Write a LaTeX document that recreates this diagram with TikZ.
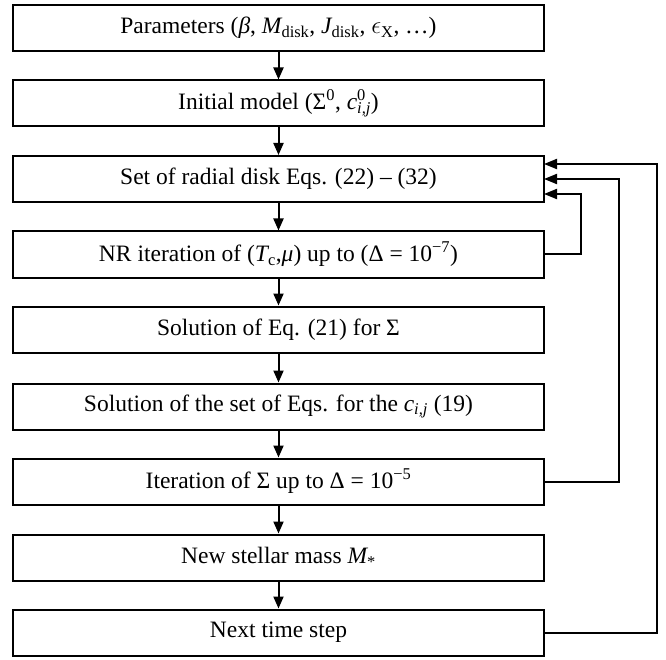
\documentclass[tikz,border=0pt]{standalone}
\usepackage{fontspec}
\setmainfont{Liberation Serif}
\usetikzlibrary{arrows.meta}
\newcommand\sbs[1]{\textsubscript{#1}}
\newcommand\sps[1]{\textsuperscript{#1}}
\begin{document}
\begin{tikzpicture}[x=1pt,y=-1pt,
  stepbox/.style={draw,line width=2pt,rectangle,minimum width=531pt,minimum height=46pt,inner sep=0pt,
    font=\fontsize{23.5}{27}\selectfont},
  arr/.style={line width=2pt,-{Triangle[length=12pt,width=10pt]}},
  fb/.style={line width=2pt,-{Triangle[length=13pt,width=10pt]},shorten >=-1pt}]
\useasboundingbox (0,0) rectangle (666,660);
\node[stepbox] (s1) at (278.5,28) {Parameters ({\itshape β}, {\itshape M}\sbs{disk}, {\itshape J}\sbs{disk}, $\epsilon$\sbs{X}, …)};
\node[stepbox] (s2) at (278.5,103.5) {Initial model (Σ\sps{0}, {\itshape c}\rlap{\sps{0}}\sbs{\itshape i,j})};
\node[stepbox] (s3) at (278.5,179) {Set of radial disk Eqs. (22) – (32)};
\node[stepbox] (s4) at (278.5,254.5) {NR iteration of ({\itshape T}\sbs{c},{\itshape μ}) up to (Δ = 10\sps{−7})};
\node[stepbox] (s5) at (278.5,329.5) {Solution of Eq. (21) for Σ};
\node[stepbox] (s6) at (278.5,406.5) {Solution of the set of Eqs. for the {\itshape c}\sbs{\itshape i,j} (19)};
\node[stepbox] (s7) at (278.5,481.5) {Iteration of Σ up to Δ = 10\sps{−5}};
\node[stepbox] (s8) at (278.5,557.5) {New stellar mass {\itshape M}\sbs{*}};
\node[stepbox] (s9) at (278.5,632.5) {Next time step};
\draw[arr] (s1) -- (s2);
\draw[arr] (s2) -- (s3);
\draw[arr] (s3) -- (s4);
\draw[arr] (s4) -- (s5);
\draw[arr] (s5) -- (s6);
\draw[arr] (s6) -- (s7);
\draw[arr] (s7) -- (s8);
\draw[arr] (s8) -- (s9);
\coordinate (r1) at (581,254.5);
\coordinate (r2) at (619,481.5);
\coordinate (r3) at (657,632.5);
\draw[fb] (s4.east) -- (r1) |- ([yshift=-15pt]s3.east);
\draw[fb] (s7.east) -- (r2) |- (s3.east);
\draw[fb] (s9.east) -- (r3) |- ([yshift=15pt]s3.east);
\end{tikzpicture}
\end{document}
